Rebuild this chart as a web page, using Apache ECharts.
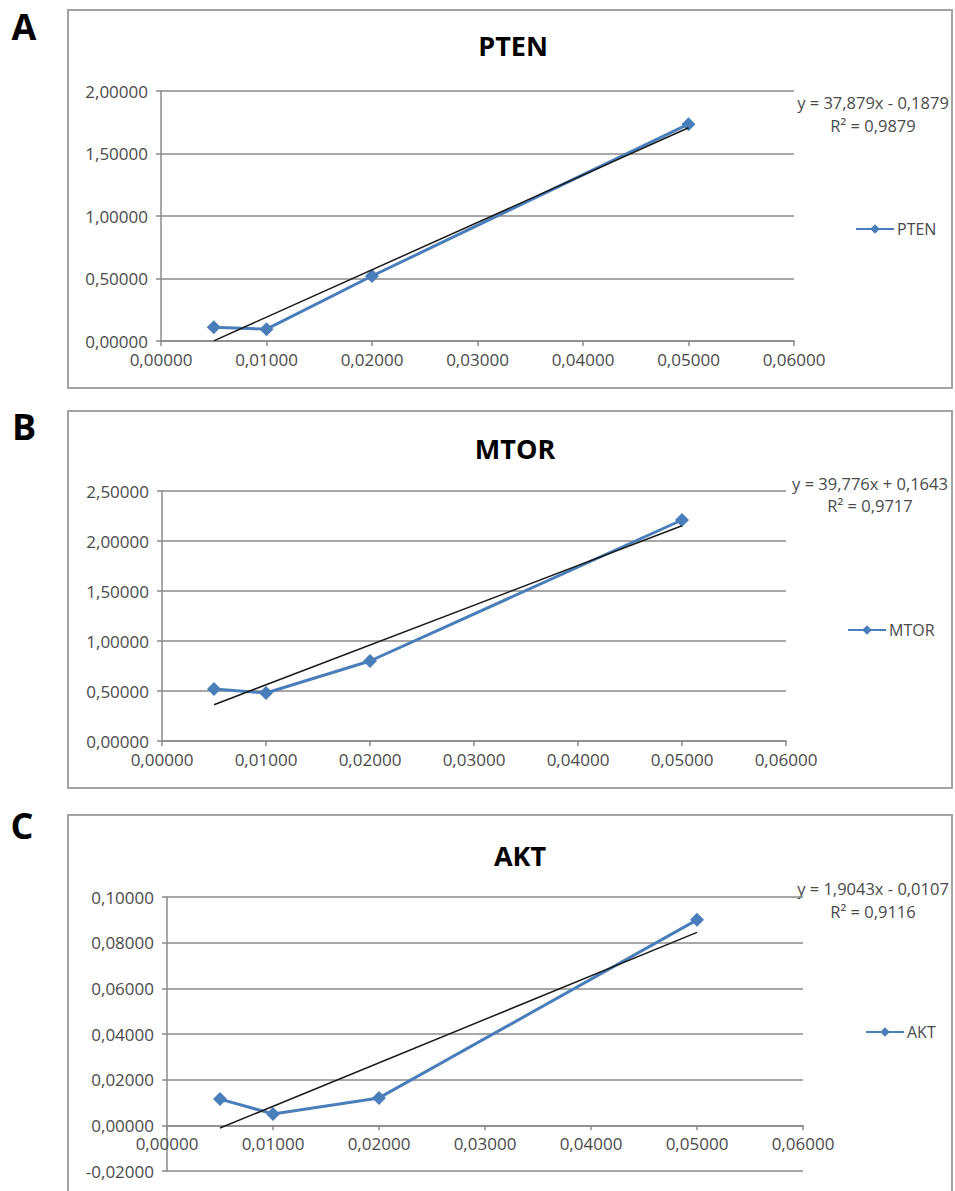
<!DOCTYPE html>
<html>
<head>
<meta charset="utf-8">
<script src="https://cdn.jsdelivr.net/npm/echarts@6/dist/echarts.min.js"></script>
<style>
html,body{margin:0;padding:0;background:#fff;}
#chart{width:955px;height:1191px;}
</style>
</head>
<body>
<div id="chart"></div>
<script>
// ---- data ----
const panelLetters = ['A', 'B', 'C'];
const geneNames = ['PTEN', 'MTOR', 'AKT'];
const xValues = [0.005, 0.01, 0.02, 0.05];
const ptenValues = [0.11, 0.095, 0.52, 1.735];
const mtorValues = [0.52, 0.48, 0.80, 2.21];
const aktValues = [0.0115, 0.005, 0.012, 0.090];
const trendSlopes = [37.879, 39.776, 1.9043];
const trendIntercepts = [-0.1879, 0.1643, -0.0107];
const trendXRange = [0.005, 0.05];
const equationTexts = ['y = 37,879x - 0,1879', 'y = 39,776x + 0,1643', 'y = 1,9043x - 0,0107'];
const r2Texts = ['R\u00b2 = 0,9879', 'R\u00b2 = 0,9717', 'R\u00b2 = 0,9116'];
const xAxisRange = [0, 0.06, 0.01];
const yAxisRanges = [[0, 2, 0.5], [0, 2.5, 0.5], [-0.02, 0.1, 0.02]];

// ---- layout ----
const seriesValues = [ptenValues, mtorValues, aktValues];
const grids = [
  {left: 161, top: 91, width: 633, height: 250},
  {left: 162, top: 491, width: 624, height: 250},
  {left: 167, top: 897, width: 636, height: 274}
];
const boxes = [
  {x: 68, y: 10, w: 884, h: 378},
  {x: 68, y: 411, w: 884, h: 377},
  {x: 68, y: 815, w: 884, h: 380}
];
const titlePos = [[513, 45], [515, 448], [520, 855]];
const letterPos = [[24, 26], [24, 426], [22, 825]];
const eqPos = [[873, 102, 125], [870, 483, 505], [873, 888, 911]];
const legendPos = [[855, 221], [847, 622], [865, 1024]];

const FONT = '"Open Sans", "Liberation Sans", sans-serif';
const axisGray = '#8a8a8a';
const labelColor = '#4a4a4a';
const blue = '#4a7ebb';

function fmt(v) {
  let s = Math.abs(v) < 1e-12 ? (0).toFixed(5) : v.toFixed(5);
  return s.replace('.', ',');
}

// offset that puts the x axis at y = 0 inside each grid
function zeroOffset(i) {
  const r = yAxisRanges[i];
  if (r[0] >= 0) return 0;
  return -grids[i].height * (0 - r[0]) / (r[1] - r[0]);
}

const option = {
  backgroundColor: '#ffffff',
  animation: false,
  grid: grids.map(g => Object.assign({containLabel: false}, g)),
  xAxis: grids.map((g, i) => ({
    type: 'value', gridIndex: i,
    min: xAxisRange[0], max: xAxisRange[1], interval: xAxisRange[2],
    position: 'bottom',
    offset: zeroOffset(i),
    axisLine: {show: true, onZero: false, lineStyle: {color: axisGray, width: 1.5}},
    axisTick: {show: true, length: 5, lineStyle: {color: axisGray, width: 1.5}},
    axisLabel: {formatter: fmt, fontFamily: FONT, fontSize: 17, color: labelColor, margin: 10},
    splitLine: {show: false}
  })),
  yAxis: grids.map((g, i) => ({
    type: 'value', gridIndex: i,
    min: yAxisRanges[i][0], max: yAxisRanges[i][1], interval: yAxisRanges[i][2],
    axisLine: {show: true, onZero: false, lineStyle: {color: axisGray, width: 1.5}},
    axisTick: {show: true, length: 5, lineStyle: {color: axisGray, width: 1.5}},
    axisLabel: {formatter: fmt, fontFamily: FONT, fontSize: 17, color: labelColor, margin: 13},
    splitLine: {show: true, lineStyle: {color: axisGray, width: 1.5}}
  })),
  legend: geneNames.map((name, i) => ({
    data: [name],
    left: legendPos[i][0], top: legendPos[i][1],
    orient: 'vertical',
    itemWidth: 38, itemHeight: 12, itemGap: 4,
    textStyle: {fontFamily: FONT, fontSize: 16, color: labelColor, padding: [0, 0, 0, -2]},
    padding: 0
  })),
  series: []
};

geneNames.forEach((name, i) => {
  option.series.push({
    name: name, type: 'line',
    xAxisIndex: i, yAxisIndex: i,
    data: xValues.map((x, k) => [x, seriesValues[i][k]]),
    symbol: 'diamond', symbolSize: 14,
    lineStyle: {color: blue, width: 3},
    itemStyle: {color: blue},
    z: 2
  });
  option.series.push({
    name: name + ' trend', type: 'line',
    xAxisIndex: i, yAxisIndex: i,
    data: trendXRange.map(x => [x, trendSlopes[i] * x + trendIntercepts[i]]),
    symbol: 'none',
    lineStyle: {color: '#1a1a1a', width: 1.5},
    z: 3,
    silent: true
  });
});

const graphics = [];
boxes.forEach(b => {
  graphics.push({type: 'rect', shape: {x: b.x, y: b.y, width: b.w, height: b.h},
    style: {fill: 'none', stroke: '#a3a3a3', lineWidth: 2}, z: -10});
});
geneNames.forEach((name, i) => {
  graphics.push({type: 'text', x: titlePos[i][0], y: titlePos[i][1],
    style: {text: name, font: 'bold 27px ' + FONT, fill: '#000', textAlign: 'center', textVerticalAlign: 'middle'}});
  graphics.push({type: 'text', x: letterPos[i][0], y: letterPos[i][1],
    style: {text: panelLetters[i], font: 'bold 36px ' + FONT, fill: '#000', textAlign: 'center', textVerticalAlign: 'middle'}});
  graphics.push({type: 'text', x: eqPos[i][0], y: eqPos[i][1],
    style: {text: equationTexts[i], font: '16.5px ' + FONT, fill: labelColor, textAlign: 'center', textVerticalAlign: 'middle'}});
  graphics.push({type: 'text', x: eqPos[i][0], y: eqPos[i][2],
    style: {text: r2Texts[i], font: '16.5px ' + FONT, fill: labelColor, textAlign: 'center', textVerticalAlign: 'middle'}});
});
option.graphic = graphics;

const chart = echarts.init(document.getElementById('chart'), null, {renderer: 'svg'});
chart.setOption(option);
</script>
</body>
</html>
